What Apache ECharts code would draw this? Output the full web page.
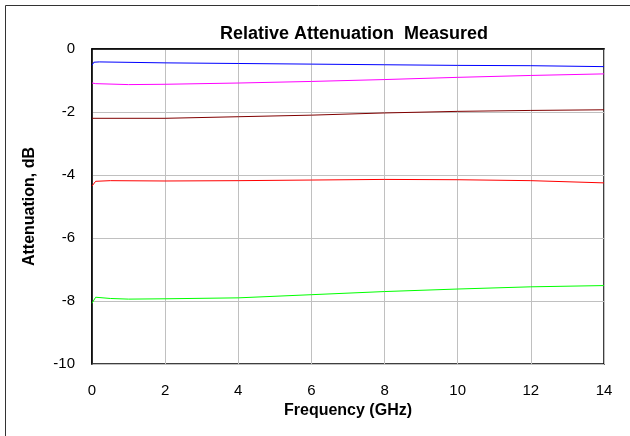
<!DOCTYPE html>
<html>
<head>
<meta charset="utf-8">
<script src="https://cdn.jsdelivr.net/npm/echarts@6/dist/echarts.min.js"></script>
<style>html,body{margin:0;padding:0;background:#fff}#c{width:630px;height:436px}</style>
</head>
<body>
<div id="c"></div>
<script>
const title = "Relative Attenuation  Measured";
const xName = "Frequency (GHz)";
const yName = "Attenuation, dB";

const blueX = [0, 0.05, 0.2, 2, 4, 6, 8, 10, 12, 14];
const blueY = [-0.52, -0.42, -0.41, -0.44, -0.46, -0.48, -0.50, -0.52, -0.53, -0.56];

const magentaX = [0, 0.1, 1, 2, 4, 6, 8, 10, 12, 14];
const magentaY = [-1.08, -1.10, -1.13, -1.12, -1.08, -1.03, -0.97, -0.90, -0.84, -0.79];

const darkRedX = [0, 2, 4, 6, 8, 10, 12, 14];
const darkRedY = [-2.20, -2.20, -2.15, -2.10, -2.03, -1.98, -1.95, -1.93];

const redX = [0, 0.1, 0.5, 2, 4, 6, 8, 10, 12, 14];
const redY = [-4.35, -4.20, -4.18, -4.19, -4.18, -4.16, -4.14, -4.15, -4.18, -4.25];

const greenX = [0, 0.1, 0.5, 1, 2, 4, 6, 8, 10, 12, 14];
const greenY = [-8.07, -7.88, -7.92, -7.94, -7.93, -7.90, -7.80, -7.70, -7.62, -7.55, -7.51];

function pairs(xs, ys) { return xs.map((x, i) => [x, ys[i]]); }

const seriesDefs = [
  { name: "blue", x: blueX, y: blueY, color: "#0000ff" },
  { name: "magenta", x: magentaX, y: magentaY, color: "#ff00ff" },
  { name: "darkred", x: darkRedX, y: darkRedY, color: "#800000" },
  { name: "red", x: redX, y: redY, color: "#ff0000" },
  { name: "green", x: greenX, y: greenY, color: "#00ff00" }
];

const chart = echarts.init(document.getElementById('c'), null, { renderer: 'canvas' });
const font = "Arial, 'Liberation Sans', sans-serif";
chart.setOption({
  animation: false,
  backgroundColor: '#fff',
  textStyle: { fontFamily: font },
  title: {
    text: title, left: 349, top: 20, textAlign: 'center',
    textStyle: { fontSize: 18, fontWeight: 'bold', color: '#000', fontFamily: font }
  },
  graphic: [{
    type: 'rect', shape: { x: 5.5, y: 5.5, width: 700, height: 700 },
    style: { fill: 'none', stroke: '#333', lineWidth: 1 }, silent: true, z: -1
  }],
  grid: { left: 92, right: 26, top: 49, bottom: 72, show: true, borderColor: '#000', borderWidth: 1.5, backgroundColor: 'transparent' },
  xAxis: {
    type: 'value', min: 0, max: 14, interval: 2,
    name: xName, nameLocation: 'middle', nameGap: 38,
    nameTextStyle: { fontSize: 16, fontWeight: 'bold', color: '#000', fontFamily: font },
    axisLine: { show: true, lineStyle: { color: '#000', width: 1.5 } },
    axisTick: { show: false },
    axisLabel: { fontSize: 15, color: '#000', margin: 19, fontFamily: font },
    splitLine: { show: true, lineStyle: { color: '#c0c0c0', width: 1 } }
  },
  yAxis: {
    type: 'value', min: -10, max: 0, interval: 2,
    name: yName, nameLocation: 'middle', nameGap: 54, nameRotate: 90,
    nameTextStyle: { fontSize: 16, fontWeight: 'bold', color: '#000', fontFamily: font },
    axisLine: { show: true, lineStyle: { color: '#000', width: 1.5 } },
    axisTick: { show: false },
    axisLabel: { fontSize: 15, color: '#000', margin: 17, fontFamily: font },
    splitLine: { show: true, lineStyle: { color: '#c0c0c0', width: 1 } }
  },
  series: seriesDefs.map(s => ({
    type: 'line', name: s.name, data: pairs(s.x, s.y),
    showSymbol: false, symbol: 'none',
    lineStyle: { color: s.color, width: 1 },
    itemStyle: { color: s.color }
  }))
});
</script>
</body>
</html>
